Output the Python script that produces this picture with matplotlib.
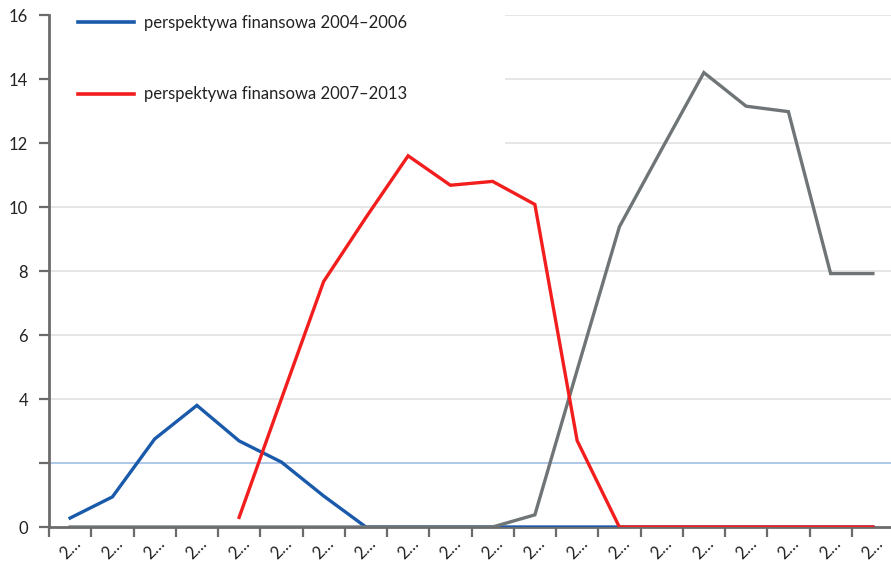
import matplotlib.pyplot as plt
from matplotlib.lines import Line2D
from matplotlib.patches import Rectangle

plt.rcParams['font.family'] = ['Lato', 'DejaVu Sans']

# kategorie osi X (etykiety skrócone do "2…")
categories = list(range(20))
tick_labels = ['2…'] * 20

blue_2004_2006 = [0.28, 0.94, 2.75, 3.8, 2.69, 2.03, 0.97, 0, 0, 0,
                  0, 0, 0, 0, 0, 0, 0, 0, 0, 0]
red_2007_2013 = [None, None, None, None, 0.3, 4.0, 7.67, 9.67, 11.6, 10.68,
                 10.8, 10.08, 2.7, 0, 0, 0, 0, 0, 0, 0]
gray_2014_2020 = [0, 0, 0, 0, 0, 0, 0, 0, 0, 0,
                  0, 0.38, 4.9, 9.38, 11.8, 14.2, 13.15, 12.98, 7.92, 7.92]

yticks = [0, 2, 4, 6, 8, 10, 12, 14, 16]
ytick_labels = ['0', '', '4', '6', '8', '10', '12', '14', '16']

BLUE = '#1a5aab'
RED = '#f21d1d'
GRAY = '#6f7577'
AXIS = '#6b6b6b'

fig = plt.figure(figsize=(8.91, 5.64), dpi=100)
ax = fig.add_axes([49 / 891, 37 / 564, 845 / 891, 512 / 564])

red_x = [c for c, v in zip(categories, red_2007_2013) if v is not None]
red_y = [v for v in red_2007_2013 if v is not None]

ax.plot(categories, blue_2004_2006, color=BLUE, lw=2.4, zorder=3,
        solid_joinstyle='miter')
ax.plot(categories, gray_2014_2020, color=GRAY, lw=2.4, zorder=4,
        solid_joinstyle='miter')
ax.plot(red_x, red_y, color=RED, lw=2.4, zorder=5, solid_joinstyle='miter')

# linie siatki
for y in yticks:
    if y == 0:
        continue
    if y == 2:
        ax.axhline(y, color='#a9c4e7', lw=1.3, zorder=1)
    else:
        ax.axhline(y, color='#e4e4e4', lw=1.3, zorder=1)

ax.set_xlim(-0.5, 19.5)
ax.set_ylim(0, 16)
ax.set_yticks(yticks)
ax.set_yticklabels(ytick_labels, fontsize=12, color='#222222')
ax.set_xticks([c - 0.5 for c in categories] + [19.5])
ax.set_xticklabels([])
ax.set_xticks(categories, minor=True)
ax.set_xticklabels(tick_labels, minor=True, rotation=45, fontsize=12,
                   ha='center', va='top', color='#222222')
ax.tick_params(axis='x', which='minor', length=0, pad=6)
ax.tick_params(axis='x', which='major', length=7, width=1.6, color=AXIS)
ax.tick_params(axis='y', length=7, width=1.6, color=AXIS, pad=8)

for side in ['top', 'right']:
    ax.spines[side].set_visible(False)
for side in ['left', 'bottom']:
    ax.spines[side].set_color(AXIS)
    ax.spines[side].set_linewidth(2)
ax.spines['bottom'].set_zorder(2)

# białe tło pod legendą
ax.add_patch(Rectangle((0.002, 0.735), 0.538, 0.3, transform=ax.transAxes,
                       facecolor='white', edgecolor='none', zorder=2,
                       clip_on=False))

handles = [Line2D([], [], color=BLUE, lw=2.6),
           Line2D([], [], color=RED, lw=2.6)]
labels = ['perspektywa finansowa 2004–2006', 'perspektywa finansowa 2007–2013']
leg = ax.legend(handles, labels, loc='upper left', bbox_to_anchor=(0.016, 1.03),
                frameon=False, fontsize=12, handlelength=3.4,
                handletextpad=0.6, labelspacing=3.35)
for t in leg.get_texts():
    t.set_color('#222222')

fig.savefig('out.png', dpi=100)
